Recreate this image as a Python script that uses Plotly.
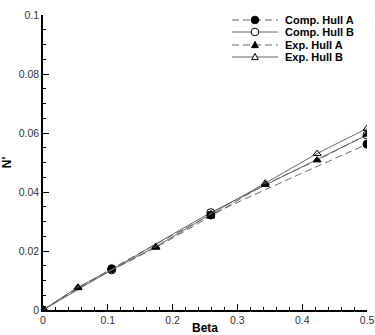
import plotly.graph_objects as go

# Data
comp_x = [0.0, 0.106, 0.259, 0.5]
comp_a = [0.0, 0.0140, 0.0322, 0.0562]
comp_b = [0.0, 0.0136, 0.0330, 0.0593]

exp_x = [0.0, 0.054, 0.174, 0.259, 0.343, 0.423, 0.5]
exp_a = [0.0, 0.0075, 0.0212, 0.0318, 0.0425, 0.0508, 0.0595]
exp_b = [0.0, 0.0077, 0.0215, 0.0325, 0.0430, 0.0530, 0.0615]

names = ["Comp. Hull A", "Comp. Hull B", "Exp. Hull A", "Exp. Hull B"]

W, H = 375, 335
ML, MR, MT, MB = 43, 8, 15, 25
PW, PH = W - ML - MR, H - MT - MB

line_col = "#666666"
dash_a = "7px,4px"
font_fam = "Arial, Liberation Sans"

styles = [
    dict(dash=dash_a, symbol="circle", size=8, fill=True),
    dict(dash="solid", symbol="circle-open", size=8, fill=False),
    dict(dash=dash_a, symbol="triangle-up", size=7, fill=True),
    dict(dash="solid", symbol="triangle-up-open", size=7, fill=False),
]
series = [(comp_x, comp_a), (comp_x, comp_b), (exp_x, exp_a), (exp_x, exp_b)]

fig = go.Figure()
for (xs, ys), nm, st in zip(series, names, styles):
    fig.add_trace(go.Scatter(
        x=xs, y=ys, name=nm, mode="lines+markers", showlegend=False,
        line=dict(color=line_col, width=1, dash=st["dash"], shape="spline", smoothing=0.6),
        marker=dict(symbol=st["symbol"], size=st["size"], color="black",
                    line=dict(width=1, color="black"))))

axis_common = dict(showline=True, linecolor="black", linewidth=1.5, mirror=False,
                   showgrid=False, zeroline=False, ticks="inside", ticklen=6,
                   tickcolor="black", tickwidth=1.2, automargin=False,
                   tickfont=dict(family=font_fam, size=10.5, color="#333"))

fig.update_xaxes(range=[0, 0.5], dtick=0.1, tick0=0,
                 minor=dict(ticks="inside", ticklen=3, dtick=0.02, tickcolor="black"),
                 title=dict(text="<b>Beta</b>", font=dict(family=font_fam, size=12, color="black"), standoff=1),
                 **axis_common)
fig.update_yaxes(range=[0, 0.1], dtick=0.02, tick0=0,
                 minor=dict(ticks="inside", ticklen=3, dtick=0.005, tickcolor="black"),
                 title=dict(text="<b>N'</b>", font=dict(family=font_fam, size=12, color="black"), standoff=6),
                 **axis_common)

# Manual legend (layout decoration, in paper coordinates)
def px_x(p):
    return (p - ML) / PW

def px_y(p):
    return (H - MB - p) / PH

rows_px = [20, 32, 45, 57]
x0, x1, xm, xt = 232, 278, 255, 283
shapes = []
annotations = []
for nm, st, ry in zip(names, styles, rows_px):
    shapes.append(dict(type="line", xref="paper", yref="paper",
                       x0=px_x(x0), x1=px_x(x1), y0=px_y(ry), y1=px_y(ry),
                       line=dict(color=line_col, width=1, dash=st["dash"])))
    if "circle" in st["symbol"]:
        r = 3.8
        shapes.append(dict(type="circle", xref="paper", yref="paper",
                           x0=px_x(xm - r), x1=px_x(xm + r), y0=px_y(ry - r), y1=px_y(ry + r),
                           fillcolor="black" if st["fill"] else "white",
                           line=dict(color="black", width=1)))
    else:
        s = 3.3
        path = "M {} {} L {} {} L {} {} Z".format(
            px_x(xm - s), px_y(ry + s * 0.8), px_x(xm + s), px_y(ry + s * 0.8),
            px_x(xm), px_y(ry - s * 1.1))
        shapes.append(dict(type="path", xref="paper", yref="paper", path=path,
                           fillcolor="black" if st["fill"] else "white",
                           line=dict(color="black", width=1)))
    annotations.append(dict(text="<b>" + nm + "</b>", xref="paper", yref="paper",
                            x=px_x(xt), y=px_y(ry), xanchor="left", yanchor="middle",
                            showarrow=False,
                            font=dict(family=font_fam, size=11, color="black")))

fig.update_layout(width=W, height=H, margin=dict(l=ML, r=MR, t=MT, b=MB),
                  plot_bgcolor="white", paper_bgcolor="white",
                  showlegend=False, shapes=shapes, annotations=annotations)

fig.write_html("out.html")
